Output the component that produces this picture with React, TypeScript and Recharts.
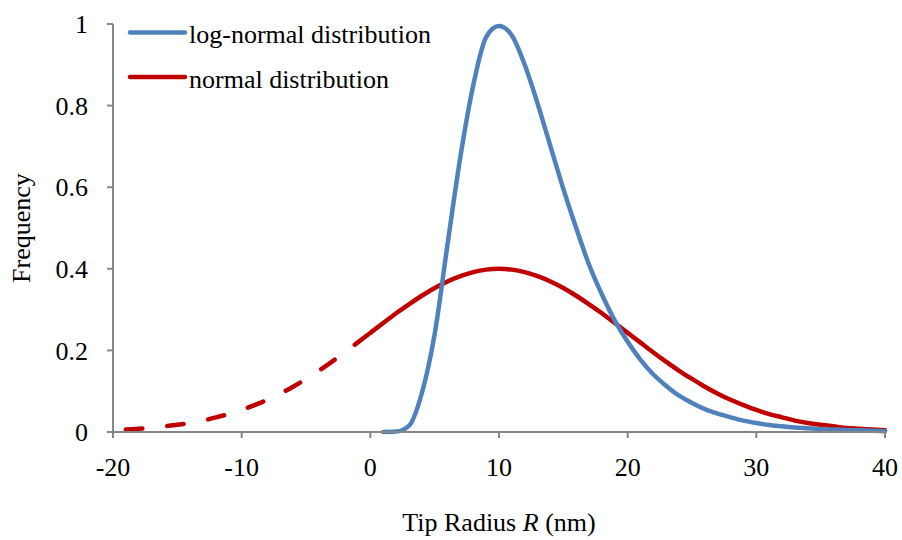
import React from 'react';
import { LineChart, Line, XAxis, YAxis, Legend, Label } from 'recharts';

// Tip radius R (nm)
const radius = [
  -19, -18, -17, -16, -15, -14, -13, -12, -11, -10,
  -9, -8, -7, -6, -5, -4, -3, -2, -1, 0,
  1, 2, 3, 4, 5, 6, 7, 8, 9, 10,
  11, 12, 13, 14, 15, 16, 17, 18, 19, 20,
  21, 22, 23, 24, 25, 26, 27, 28, 29, 30,
  31, 32, 33, 34, 35, 36, 37, 38, 39, 40,
];

// log-normal distribution (defined for R >= 1)
const logNormal = [
  null, null, null, null, null, null, null, null, null, null,
  null, null, null, null, null, null, null, null, null, null,
  0, 0.001, 0.015, 0.095, 0.24, 0.46, 0.675, 0.85, 0.968, 0.995,
  0.972, 0.9, 0.805, 0.7, 0.596, 0.5, 0.41, 0.337, 0.273, 0.221,
  0.177, 0.141, 0.113, 0.089, 0.071, 0.056, 0.045, 0.036, 0.028, 0.022,
  0.017, 0.014, 0.011, 0.009, 0.007, 0.006, 0.005, 0.004, 0.003, 0.002,
];

// normal distribution
const normal = [
  0.006, 0.008, 0.010, 0.014, 0.018, 0.022, 0.028, 0.036, 0.044, 0.054,
  0.066, 0.079, 0.094, 0.111, 0.130, 0.150, 0.172, 0.195, 0.219, 0.243,
  0.267, 0.291, 0.313, 0.334, 0.353, 0.369, 0.382, 0.392, 0.398, 0.400,
  0.398, 0.392, 0.382, 0.369, 0.353, 0.334, 0.313, 0.291, 0.267, 0.243,
  0.219, 0.195, 0.172, 0.150, 0.130, 0.111, 0.094, 0.079, 0.066, 0.054,
  0.044, 0.036, 0.028, 0.022, 0.018, 0.014, 0.010, 0.008, 0.006, 0.004,
];

const xTicks = [-20, -10, 0, 10, 20, 30, 40];
const yTicks = [0, 0.2, 0.4, 0.6, 0.8, 1];

const seriesNames = ['log-normal distribution', 'normal distribution'];

const BLUE = '#4F81BD';
const RED = '#C00000';
const AXIS = '#868686';
const FONT = '"Liberation Serif", "Times New Roman", serif';
const FS = 26;

const chartData = radius.map((r, i) => ({
  r,
  logNormal: logNormal[i],
  normalDashed: r <= 0 ? normal[i] : null,
  normalSolid: r >= 0 ? normal[i] : null,
}));

const LegendBox = () => (
  <svg width={450} height={100} style={{ display: 'block' }}>
    <line x1={130} y1={32.5} x2={185} y2={32.5} stroke={BLUE} strokeWidth={4.5} strokeLinecap="round" />
    <text x={189} y={43} fontFamily={FONT} fontSize={FS} fill="#000">{seriesNames[0]}</text>
    <line x1={130} y1={77} x2={185} y2={77} stroke={RED} strokeWidth={4.5} strokeLinecap="round" />
    <text x={189} y={87.5} fontFamily={FONT} fontSize={FS} fill="#000">{seriesNames[1]}</text>
  </svg>
);

const XTitle = (props: any) => {
  const vb = props.viewBox || {};
  return (
    <text x={vb.x + vb.width / 2} y={vb.y + 99} textAnchor="middle" fontFamily={FONT} fontSize={FS} fill="#000">
      Tip Radius <tspan fontStyle="italic">R</tspan> (nm)
    </text>
  );
};

const YTitle = (props: any) => {
  const vb = props.viewBox || {};
  const cx = vb.x + 29.5;
  const cy = vb.y + vb.height / 2;
  return (
    <text x={cx} y={cy} transform={`rotate(-90 ${cx} ${cy})`} textAnchor="middle" fontFamily={FONT} fontSize={FS} fill="#000">
      Frequency
    </text>
  );
};

export default function App() {
  return (
    <div style={{ position: 'absolute', left: 0, top: 0, width: 902, height: 540, background: '#fff' }}>
      <LineChart
        width={902}
        height={540}
        data={chartData}
        margin={{ top: 24, right: 17, bottom: 0, left: 0 }}
      >
        <XAxis
          dataKey="r"
          type="number"
          domain={[-20, 40]}
          ticks={xTicks}
          interval={0}
          height={108}
          tickSize={6}
          tickMargin={20}
          stroke={AXIS}
          strokeWidth={2}
          tick={{ fill: '#000', fontFamily: FONT, fontSize: FS }}
          tickLine={{ stroke: AXIS, strokeWidth: 2 }}
        >
          <Label content={<XTitle />} />
        </XAxis>
        <YAxis
          type="number"
          domain={[0, 1]}
          ticks={yTicks}
          interval={0}
          width={113}
          tickSize={6}
          tickMargin={19}
          stroke={AXIS}
          strokeWidth={2}
          tick={{ fill: '#000', fontFamily: FONT, fontSize: FS }}
          tickLine={{ stroke: AXIS, strokeWidth: 2 }}
        >
          <Label content={<YTitle />} />
        </YAxis>
        <Legend
          layout="horizontal"
          verticalAlign="middle"
          align="center"
          content={() => <LegendBox />}
          wrapperStyle={{ position: 'absolute', left: 0, top: 0, width: 450, height: 100 }}
        />
        <Line
          type="monotone"
          dataKey="normalDashed"
          name={seriesNames[1]}
          stroke={RED}
          strokeWidth={4.5}
          strokeDasharray="16.5 25"
          strokeLinecap="round"
          dot={false}
          activeDot={false}
          isAnimationActive={false}
          connectNulls={false}
          legendType="none"
        />
        <Line
          type="monotone"
          dataKey="normalSolid"
          name={seriesNames[1]}
          stroke={RED}
          strokeWidth={4.5}
          strokeLinecap="round"
          dot={false}
          activeDot={false}
          isAnimationActive={false}
          connectNulls={false}
        />
        <Line
          type="monotone"
          dataKey="logNormal"
          name={seriesNames[0]}
          stroke={BLUE}
          strokeWidth={4.5}
          strokeLinecap="round"
          dot={false}
          activeDot={false}
          isAnimationActive={false}
          connectNulls={false}
        />
      </LineChart>
    </div>
  );
}
